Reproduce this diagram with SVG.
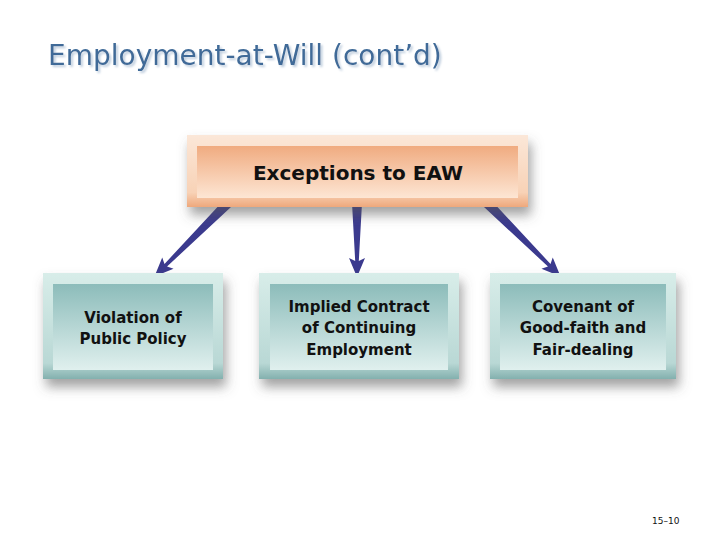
<svg xmlns="http://www.w3.org/2000/svg" width="720" height="540" viewBox="0 0 720 540">
<defs>
<style>
.title{font-family:"DejaVu Sans","Liberation Sans",sans-serif;font-size:28px;fill:#3f6b98}
.lbl{font-family:"DejaVu Sans","Liberation Sans",sans-serif;font-size:15px;font-weight:bold;fill:#111;text-anchor:middle}
.top{font-family:"DejaVu Sans","Liberation Sans",sans-serif;font-size:20px;font-weight:bold;fill:#111;text-anchor:middle}
.arrow{fill:#3b3a8e}
.pg{font-family:"DejaVu Sans","Liberation Sans",sans-serif;font-size:9px;fill:#111}
</style>
<linearGradient id="oOut" x1="0" y1="0" x2="0" y2="1">
<stop offset="0" stop-color="#fbe7d8"/><stop offset="0.8" stop-color="#f8d2b6"/><stop offset="1" stop-color="#eea87c"/>
</linearGradient>
<linearGradient id="oIn" x1="0" y1="0" x2="0" y2="1">
<stop offset="0" stop-color="#f0ab80"/><stop offset="1" stop-color="#fde6d4"/>
</linearGradient>
<linearGradient id="tOut" x1="0" y1="0" x2="0" y2="1">
<stop offset="0" stop-color="#d8ede9"/><stop offset="0.85" stop-color="#b9d8d5"/><stop offset="1" stop-color="#83b0ae"/>
</linearGradient>
<linearGradient id="tIn" x1="0" y1="0" x2="0" y2="1">
<stop offset="0" stop-color="#8cbcba"/><stop offset="1" stop-color="#e0f0ee"/>
</linearGradient>
<filter id="sh" x="-20%" y="-30%" width="150%" height="180%">
<feDropShadow dx="3" dy="8" stdDeviation="6" flood-color="#555" flood-opacity="0.55"/>
</filter>
<filter id="tsh" x="-5%" y="-20%" width="110%" height="150%">
<feDropShadow dx="2" dy="2" stdDeviation="1" flood-color="#b8c8da" flood-opacity="0.9"/>
</filter>
</defs>
<rect width="720" height="540" fill="#ffffff"/>
<text class="title" x="48" y="65" filter="url(#tsh)">Employment-at-Will (cont’d)</text>

<g id="connectors">
<path class="arrow" transform="translate(228,203) rotate(45)" d="M -5 0 L 5 0 L 1.8 88 L 8 85 L 0 104 L -8 85 L -1.8 88 Z"/>
<path class="arrow" transform="translate(357,203)" d="M -5 0 L 5 0 L 1.8 58 L 8 55 L 0 74 L -8 55 L -1.8 58 Z"/>
<path class="arrow" transform="translate(487,203) rotate(-45)" d="M -5 0 L 5 0 L 1.8 88 L 8 85 L 0 104 L -8 85 L -1.8 88 Z"/>
</g>

<g id="node-exceptions">
<rect x="187" y="135" width="341" height="72" fill="url(#oOut)" filter="url(#sh)"/>
<rect x="197" y="146" width="321" height="52" fill="url(#oIn)"/>
<text class="top" x="358" y="180">Exceptions to EAW</text>
</g>

<g id="node-public-policy">
<rect x="43" y="273" width="180" height="106" fill="url(#tOut)" filter="url(#sh)"/>
<rect x="53" y="284" width="160" height="86" fill="url(#tIn)"/>
<text class="lbl" x="133" y="323">Violation of</text>
<text class="lbl" x="133" y="344">Public Policy</text>
</g>

<g id="node-implied-contract">
<rect x="259" y="273" width="200" height="106" fill="url(#tOut)" filter="url(#sh)"/>
<rect x="270" y="284" width="178" height="86" fill="url(#tIn)"/>
<text class="lbl" x="359" y="312">Implied Contract</text>
<text class="lbl" x="359" y="333">of Continuing</text>
<text class="lbl" x="359" y="355">Employment</text>
</g>

<g id="node-covenant">
<rect x="490" y="273" width="186" height="106" fill="url(#tOut)" filter="url(#sh)"/>
<rect x="500" y="284" width="166" height="86" fill="url(#tIn)"/>
<text class="lbl" x="583" y="312">Covenant of</text>
<text class="lbl" x="583" y="333">Good-faith and</text>
<text class="lbl" x="583" y="355">Fair-dealing</text>
</g>

<text class="pg" x="652" y="524">15–10</text>
</svg>
